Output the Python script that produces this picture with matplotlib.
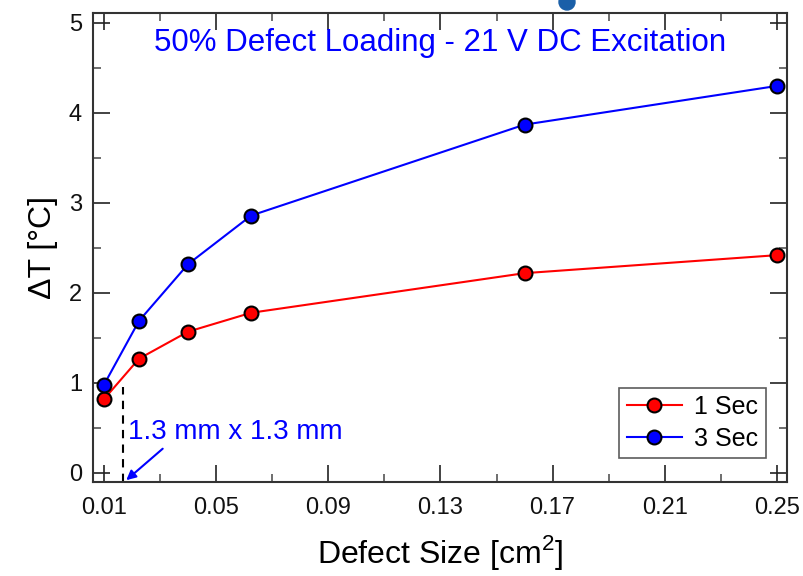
import numpy as np
import matplotlib.pyplot as plt
from matplotlib.patches import Ellipse

size = [0.01, 0.0225, 0.04, 0.0625, 0.16, 0.25]
dt_1sec = [0.82, 1.27, 1.57, 1.78, 2.22, 2.42]
dt_3sec = [0.98, 1.69, 2.32, 2.86, 3.87, 4.30]
xticks = [0.01, 0.05, 0.09, 0.13, 0.17, 0.21, 0.25]
yticks = [0, 1, 2, 3, 4, 5]

plt.rcParams['font.family'] = ['Liberation Sans', 'DejaVu Sans']
plt.rcParams['mathtext.fontset'] = 'custom'
plt.rcParams['mathtext.rm'] = 'Liberation Sans'

fig = plt.figure(figsize=(8.04, 5.76), dpi=100)
ax = fig.add_axes([0.1157, 0.1632, 0.8632, 0.8142])

ax.plot(size, dt_1sec, '-o', color='red', lw=1.5, ms=10, mfc='red', mec='black', mew=1.5, label='1 Sec', zorder=3)
ax.plot(size, dt_3sec, '-o', color='blue', lw=1.5, ms=10, mfc='blue', mec='black', mew=1.5, label='3 Sec', zorder=3)

ax.set_xlim(0.0061, 0.2536)
ax.set_ylim(-0.1, 5.11)
ax.set_xticks(xticks)
ax.set_xticklabels(['%.2f' % v for v in xticks])
ax.set_xticks(np.arange(0.03, 0.25, 0.04), minor=True)
ax.set_yticks(yticks)
ax.set_yticks(np.arange(0.5, 5, 1.0), minor=True)
ax.tick_params(which='both', direction='in', top=True, right=True, labelsize=17, labelcolor='#111111')
ax.tick_params(axis='x', pad=11)
ax.tick_params(axis='y', pad=8)
ax.tick_params(which='major', length=12, width=1.2, color='#222222')
ax.tick_params(which='minor', length=6, width=1.2, color='#555555')
for s in ax.spines.values():
    s.set_linewidth(1.5)
    s.set_color('#333333')

ax.set_xlabel('Defect Size [cm$^\\mathregular{2}$]', fontsize=23, labelpad=10)
ax.set_ylabel('ΔT [°C]', fontsize=23, labelpad=8)

ax.text(0.5, 0.936, '50% Defect Loading - 21 V DC Excitation', transform=ax.transAxes,
        ha='center', va='center', color='blue', fontsize=22.5)

# 1.3 mm x 1.3 mm marker
ax.plot([0.0169, 0.0169], [-0.1, 0.95], ls=(0, (4, 3)), color='black', lw=1.5, zorder=2)
ax.annotate('', xy=(0.0172, -0.1), xytext=(0.0317, 0.29),
            arrowprops=dict(arrowstyle='-|>', color='blue', lw=1.5, mutation_scale=14))
ax.text(0.0185, 0.46, '1.3 mm x 1.3 mm', color='blue', fontsize=20, va='center')

leg = ax.legend(loc='lower right', bbox_to_anchor=(0.9765, 0.04), fontsize=18, frameon=True,
                fancybox=False, edgecolor='#333333', handlelength=2.2, borderpad=0.3,
                labelspacing=0.3, handletextpad=0.5, borderaxespad=0.2)
leg.get_frame().set_linewidth(1.2)

# fragment of slide graphic clipped at top
fig.patches.append(Ellipse((567 / 804, 1 - 2 / 576), 16 / 804, 16 / 576, transform=fig.transFigure,
                           color='#1a5fa8', zorder=5))

fig.savefig('out.png', dpi=100)
